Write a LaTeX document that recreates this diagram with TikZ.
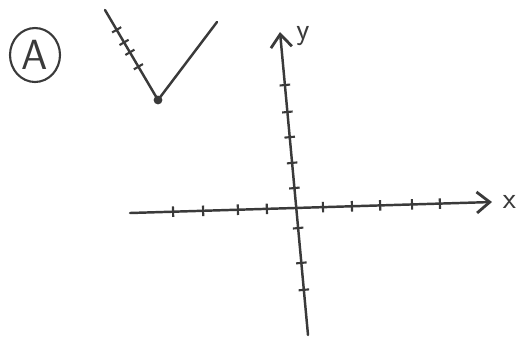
\documentclass[tikz,border=0pt]{standalone}
\usepackage{xcolor}
\usepackage{tikz}
\usetikzlibrary{arrows.meta, calc, shapes.geometric}
\definecolor{pencil}{HTML}{3A3A3A}

\begin{document}
\begin{tikzpicture}[
  x=0.02cm, y=-0.02cm,
  stroke/.style={draw=pencil, line width=1.4pt, line cap=round, line join=round},
  axis/.style={stroke, -{Straight Barb[length=2.6mm, width=4.2mm, line width=1.6pt]}},
  tickmark/.style={draw=pencil, line width=1.2pt, inner sep=0pt, minimum width=0pt,
                   minimum height=6pt, sloped},
  lbl/.style={text=pencil, font=\LARGE\sffamily, inner sep=0pt},
  every node/.style={font=\small}
]
  \useasboundingbox (0,0) rectangle (523,339);

  % Label circled A
  \node[ellipse, draw=pencil, line width=1.2pt, minimum width=1cm, minimum height=1.08cm,
        inner sep=0pt, text=pencil, font=\fontsize{24}{24}\selectfont\sffamily] (tag) at (35,55) {A};

  % V-shaped graph
  \coordinate (vtop) at (105,10);
  \coordinate (vend) at (217,22);
  \node[circle, fill=pencil, inner sep=0pt, minimum size=5pt] (vtip) at (158,100) {};
  \draw[stroke] (vtop) -- (vtip.center) -- (vend);
  \foreach \t [count=\i] in {0.22, 0.36, 0.47, 0.63}
    \path (vtop) -- (vtip.center) node[tickmark, pos=\t] (vt\i) {};

  % Axes
  \coordinate (xstart) at (130,213);
  \coordinate (xend) at (492,202);
  \coordinate (ystart) at (308,335);
  \coordinate (yend) at (280,32);
  \draw[axis] (xstart) -- (xend);
  \draw[axis] (ystart) -- (yend);
  \node[lbl, right=6pt] (xlab) at (xend) {x};
  \node[lbl] (ylab) at (303,36) {y};

  % Tick marks
  \foreach \t [count=\i] in {0.119, 0.202, 0.298, 0.378, 0.533, 0.613, 0.691, 0.779, 0.856}
    \path (xstart) -- (xend) node[tickmark, pos=\t] (xt\i) {};
  \foreach \t [count=\i] in {0.149, 0.238, 0.353, 0.485, 0.568, 0.653, 0.736, 0.825}
    \path (ystart) -- (yend) node[tickmark, pos=\t] (yt\i) {};
\end{tikzpicture}
\end{document}
